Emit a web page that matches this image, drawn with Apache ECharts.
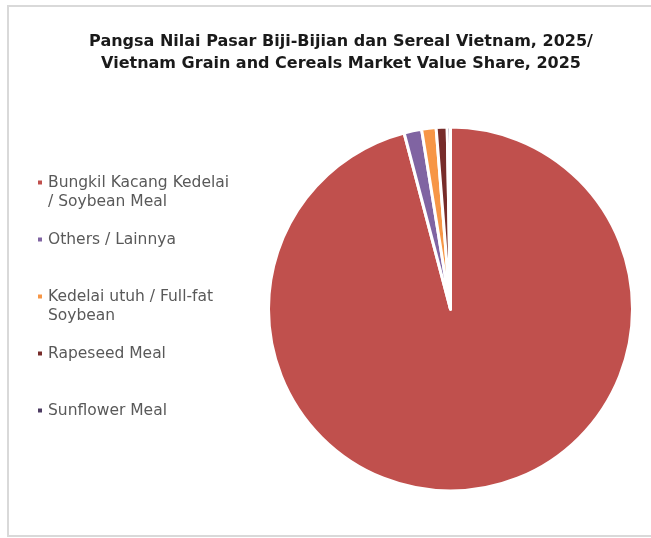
<!DOCTYPE html>
<html>
<head>
<meta charset="utf-8">
<script src="https://cdn.jsdelivr.net/npm/echarts@6/dist/echarts.min.js"></script>
<style>
  html, body { margin: 0; padding: 0; background: #fff; }
  #chart { width: 651px; height: 538px; }
</style>
</head>
<body>
<div id="chart"></div>
<script>
// Market value share by product, 2025 (percent)
var categories = [
  'Bungkil Kacang Kedelai / Soybean Meal',
  'Others / Lainnya',
  'Kedelai utuh / Full-fat Soybean',
  'Rapeseed Meal',
  'Sunflower Meal'
];
// Legend wording, wrapped the way it is printed
var legendLabels = [
  'Bungkil Kacang Kedelai\n/ Soybean Meal',
  'Others / Lainnya',
  'Kedelai utuh / Full-fat\nSoybean',
  'Rapeseed Meal',
  'Sunflower Meal'
];
var shares = [95.9, 1.56, 1.28, 0.97, 0.29];
var colors = ['#C0504D', '#8064A2', '#F79646', '#772C2A', '#4D3B62'];

var titleLines = [
  'Pangsa Nilai Pasar Biji-Bijian dan Sereal Vietnam, 2025/',
  'Vietnam Grain and Cereals Market Value Share, 2025'
];

var FONT = 'DejaVu Sans';

// Each legend entry is padded to three lines so the marker sits on its first line
// and every entry takes the same slot height.
var paddedLabel = {};
categories.forEach(function (c, i) {
  var lines = legendLabels[i].split('\n');
  paddedLabel[c] = '\n' + lines[0] + '\n' + (lines[1] || '');
});

var chart = echarts.init(document.getElementById('chart'), null, { renderer: 'canvas' });
chart.setOption({
  animation: false,
  backgroundColor: '#ffffff',
  color: colors,
  title: {
    text: titleLines.join('\n'),
    left: 336,
    textAlign: 'center',
    top: 26,
    textStyle: {
      fontFamily: FONT,
      fontSize: 16,
      fontWeight: 'bold',
      color: '#1a1a1a',
      lineHeight: 22
    }
  },
  graphic: [{
    type: 'rect',
    shape: { x: 8, y: 6, width: 660, height: 530 },
    style: { fill: 'none', stroke: '#d9d9d9', lineWidth: 2 },
    silent: true
  }],
  legend: {
    orient: 'vertical',
    left: 36,
    top: 154,
    padding: 0,
    itemWidth: 6,
    itemHeight: 6,
    itemGap: 0,
    icon: 'rect',
    data: categories,
    formatter: function (name) { return paddedLabel[name]; },
    textStyle: {
      fontFamily: FONT,
      fontSize: 15.5,
      color: '#595959',
      lineHeight: 19
    }
  },
  series: [{
    type: 'pie',
    center: [450.5, 309],
    radius: 182,
    startAngle: 90,
    clockwise: true,
    label: { show: false },
    labelLine: { show: false },
    itemStyle: { borderColor: '#ffffff', borderWidth: 3 },
    emphasis: { disabled: true },
    data: categories.map(function (c, i) {
      return { name: c, value: shares[i] };
    })
  }]
});
</script>
</body>
</html>
